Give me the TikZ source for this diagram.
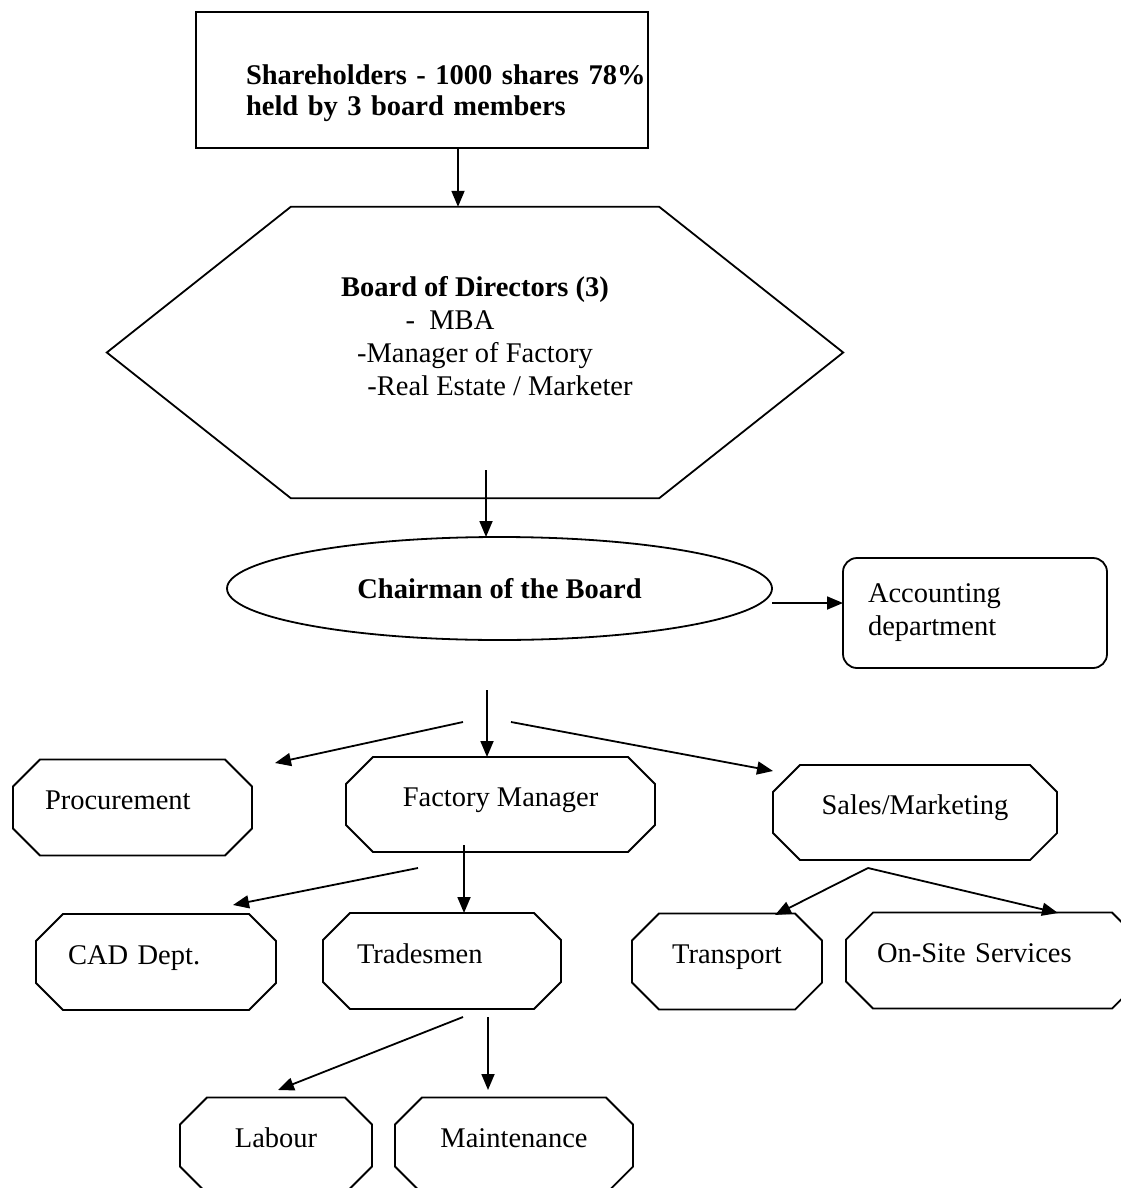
\documentclass[tikz,border=0pt]{standalone}
\usepackage{fontspec}
\setmainfont{Liberation Serif}
\usetikzlibrary{shapes.geometric,arrows.meta}

\tikzset{
  box/.style={draw, line width=1.8pt, inner sep=0pt, outer sep=0pt},
  octa/.style={inner sep=0pt, outer sep=0pt, minimum height=96pt, text height=20pt,
    text depth=16pt, align=left},
  link/.style={line width=1.8pt, -{Triangle[length=16pt,width=13pt]}},
}

\begin{document}
\begin{tikzpicture}[x=1pt, y=-1pt, font=\fontsize{28.5}{33}\selectfont]
\useasboundingbox (0,0) rectangle (1121,1188);
\clip (0,0) rectangle (1121,1188);
% owners and board
\node[box, minimum width=452pt, minimum height=136pt, text width=438pt, align=left,
  text height=47pt, font=\fontsize{28.5}{31}\selectfont\bfseries] (share) at (422,80)
  {\hspace*{43pt}\mbox{Shareholders - 1000 shares 78\%}\\\hspace*{43pt}held by 3 board members};
\node[minimum width=368pt, minimum height=291pt, inner sep=0pt, align=center] (board) at (475,352.5)
  {\textbf{Board of Directors (3)}\\-\ \ MBA\hspace*{50pt}\mbox{}\\-Manager of Factory\\\hspace*{50pt}-Real Estate / Marketer\\~};
\draw[line width=1.8pt] (board.north west) -- (board.north east) -- ([xshift=184pt]board.east)
  -- (board.south east) -- (board.south west) -- ([xshift=-184pt]board.west) -- cycle;
\node[box, ellipse, minimum width=545pt, minimum height=103pt,
  font=\fontsize{28.5}{33}\selectfont\bfseries] (chair) at (499.5,588.5) {Chairman of the Board};
\node[box, rounded corners=14pt, minimum width=264pt, minimum height=110pt, text width=214pt,
  align=left] (acct) at (975,613) {Accounting\\department};
% departments
\node[octa, minimum width=239pt, text width=175pt] (proc) at (132.5,807.5) {Procurement};
\node[octa, minimum width=309pt, minimum height=95pt, align=center] (fman) at (500.5,804.5) {Factory Manager};
\node[octa, minimum width=284pt, minimum height=95pt, align=center] (sales) at (915,812.5) {Sales/Marketing};
\node[octa, minimum width=240pt, text width=176pt] (cad) at (156,962) {CAD Dept.};
\node[octa, minimum width=238pt, text width=170pt] (trade) at (442,961) {Tradesmen};
\node[octa, minimum width=190pt, align=center] (trans) at (727,961.5) {Transport};
\node[octa, minimum width=293pt, text width=231pt] (onsite) at (992.5,960.5) {On-Site Services};
\node[octa, minimum width=192pt, align=center] (labour) at (276,1145.5) {Labour};
\node[octa, minimum width=238pt, align=center] (maint) at (514,1145.5) {Maintenance};
% cut corners round every department
\foreach \n in {proc,fman,sales,cad,trade,trans,onsite,labour,maint}
  \draw[line width=1.8pt] ([xshift=27pt]\n.north west) -- ([xshift=-27pt]\n.north east)
    -- ([yshift=-27pt]\n.north east) -- ([yshift=27pt]\n.south east)
    -- ([xshift=-27pt]\n.south east) -- ([xshift=27pt]\n.south west)
    -- ([yshift=27pt]\n.south west) -- ([yshift=-27pt]\n.north west) -- cycle;
% connectors
\coordinate (s0) at (458,0);
\coordinate (b0) at (486,470);
\coordinate (c0) at (0,603);
\draw[link] (share.south -| s0) -- (board.north -| s0);
\draw[link] (b0) -- (chair.north -| b0);
\draw[link] (chair.east |- c0) -- (acct.west |- c0);
\coordinate (c1) at (463,722);
\coordinate (c2) at (487,690);
\coordinate (c3) at (511,722);
\coordinate (f1) at (418,868);
\coordinate (f2) at (464,845);
\coordinate (a1) at (868,868);
\coordinate (t1) at (463,1017);
\coordinate (t2) at (488,1017);
\coordinate (p1) at (275,763);
\coordinate (p3) at (773,771);
\coordinate (p4) at (233,905);
\coordinate (p5) at (775,915);
\coordinate (p6) at (1058,913);
\coordinate (p7) at (278,1090);
\coordinate (p8) at (488,1090);
\draw[link] (c2) -- (fman.north -| c2);
\draw[link] (f2) -- (trade.north -| f2);
\foreach \from/\to in {c1/p1, c3/p3, f1/p4, a1/p5, a1/p6, t1/p7, t2/p8}
  \draw[link] (\from) -- (\to);
\end{tikzpicture}
\end{document}
